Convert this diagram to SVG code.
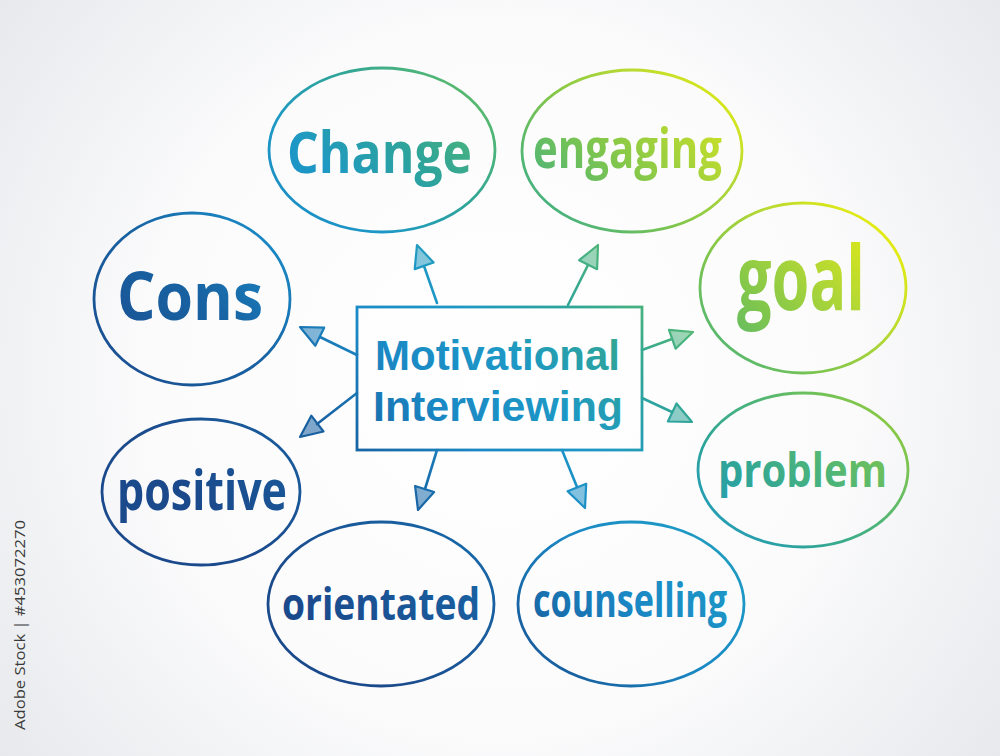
<svg xmlns="http://www.w3.org/2000/svg" width="1000" height="756" viewBox="0 0 1000 756">
  <defs>
    <radialGradient id="bg" cx="500" cy="378" r="640" gradientUnits="userSpaceOnUse">
      <stop offset="0" stop-color="#ffffff"/>
      <stop offset="0.55" stop-color="#fbfbfc"/>
      <stop offset="1" stop-color="#e6e8eb"/>
    </radialGradient>
    <linearGradient id="ink" x1="50" y1="650" x2="700" y2="0" gradientUnits="userSpaceOnUse">
      <stop offset="0.23" stop-color="#1b4a8c"/>
      <stop offset="0.385" stop-color="#1862a2"/>
      <stop offset="0.485" stop-color="#1a88c4"/>
      <stop offset="0.577" stop-color="#1d98c6"/>
      <stop offset="0.662" stop-color="#2ea49a"/>
      <stop offset="0.73" stop-color="#4cb47a"/>
      <stop offset="0.81" stop-color="#80c64c"/>
      <stop offset="0.885" stop-color="#b4d834"/>
      <stop offset="0.96" stop-color="#e2ea14"/>
    </linearGradient>
    <style>
      .bubble { fill: none; stroke: url(#ink); stroke-width: 2.8; }
      .box { fill: none; stroke: url(#ink); stroke-width: 2.8; }
      .lbl { fill: url(#ink); font-family: "Open Sans", "Noto Sans", "DejaVu Sans", sans-serif; font-weight: 700; }
      .ctr { fill: url(#ink); font-family: "Liberation Sans", Arial, sans-serif; font-weight: 700; font-size: 42px; }
      .line { stroke: url(#ink); stroke-width: 2.6; fill: none; stroke-linecap: round; }
      .head { stroke: url(#ink); stroke-width: 2.2; fill: url(#ink); fill-opacity: 0.55; stroke-linejoin: round; }
      .wm { fill: #3a3a3a; font-family: "Open Sans", "Liberation Sans", sans-serif; font-size: 14px; }
    </style>
  </defs>

  <rect x="0" y="0" width="1000" height="756" fill="url(#bg)"/>

  <g id="connectors">
    <line class="line" x1="437" y1="303" x2="424" y2="266"/>
    <polygon class="head" points="417,245 433.6,262.5 414.7,269.1"/>
    <line class="line" x1="568" y1="305" x2="588" y2="265"/>
    <polygon class="head" points="598,245 597.1,269.2 579.2,260.2"/>
    <line class="line" x1="357" y1="355" x2="320" y2="337"/>
    <polygon class="head" points="300,327 324.2,327.7 315.3,345.7"/>
    <line class="line" x1="357" y1="393" x2="317" y2="424"/>
    <polygon class="head" points="300,437 323.5,431.5 311.3,415.7"/>
    <line class="line" x1="642" y1="350" x2="672" y2="339"/>
    <polygon class="head" points="693,332 675.6,348.7 669,329.9"/>
    <line class="line" x1="642" y1="398" x2="672" y2="412"/>
    <polygon class="head" points="692,422 667.9,421.5 676.5,403.5"/>
    <line class="line" x1="437" y1="450" x2="425" y2="489"/>
    <polygon class="head" points="418,510 434.1,492 415.1,486"/>
    <line class="line" x1="562" y1="450" x2="577" y2="487"/>
    <polygon class="head" points="585,508 586.2,483.8 567.6,491.2"/>
  </g>

  <g id="center">
    <rect class="box" x="357" y="307" width="285" height="143"/>
    <text class="ctr" x="375" y="370" textLength="245" lengthAdjust="spacingAndGlyphs">Motivational</text>
    <text class="ctr" x="373" y="421" textLength="250" lengthAdjust="spacingAndGlyphs">Interviewing</text>
  </g>

  <g id="node-change">
    <ellipse class="bubble" cx="382" cy="150" rx="113" ry="82"/>
    <text class="lbl" x="287" y="173" font-size="58" textLength="185" lengthAdjust="spacingAndGlyphs">Change</text>
  </g>

  <g id="node-engaging">
    <ellipse class="bubble" cx="632" cy="151" rx="110" ry="81"/>
    <text class="lbl" x="533" y="168" font-size="56" textLength="189" lengthAdjust="spacingAndGlyphs">engaging</text>
  </g>

  <g id="node-goal">
    <ellipse class="bubble" cx="803" cy="288" rx="103" ry="85"/>
    <text class="lbl" x="737" y="310" font-size="90" textLength="128" lengthAdjust="spacingAndGlyphs">goal</text>
  </g>

  <g id="node-cons">
    <ellipse class="bubble" cx="192" cy="299" rx="98" ry="86"/>
    <text class="lbl" x="117" y="320" font-size="66" textLength="146" lengthAdjust="spacingAndGlyphs">Cons</text>
  </g>

  <g id="node-positive">
    <ellipse class="bubble" cx="201" cy="492" rx="99" ry="73"/>
    <text class="lbl" x="117" y="510" font-size="56" textLength="170" lengthAdjust="spacingAndGlyphs">positive</text>
  </g>

  <g id="node-orientated">
    <ellipse class="bubble" cx="381" cy="604" rx="113" ry="82"/>
    <text class="lbl" x="282" y="620" font-size="44" textLength="198" lengthAdjust="spacingAndGlyphs">orientated</text>
  </g>

  <g id="node-counselling">
    <ellipse class="bubble" cx="631" cy="604" rx="113" ry="82"/>
    <text class="lbl" x="533" y="617" font-size="46" textLength="194" lengthAdjust="spacingAndGlyphs">counselling</text>
  </g>

  <g id="node-problem">
    <ellipse class="bubble" cx="803" cy="470" rx="105" ry="77"/>
    <text class="lbl" x="718" y="487" font-size="46" textLength="169" lengthAdjust="spacingAndGlyphs">problem</text>
  </g>

  <text class="wm" transform="translate(25,730) rotate(-90)" x="0" y="0" textLength="210" lengthAdjust="spacingAndGlyphs">Adobe Stock | #453072270</text>
</svg>
